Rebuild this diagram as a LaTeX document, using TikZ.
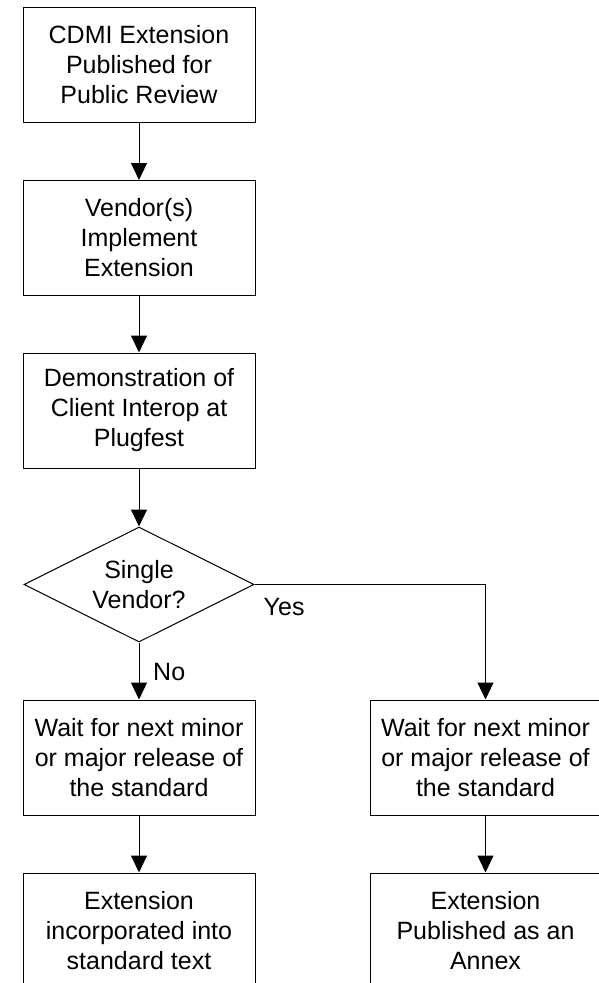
\documentclass[tikz,border=0pt]{standalone}
\usepackage{fontspec}
\setmainfont{Liberation Sans}
\usetikzlibrary{arrows.meta,positioning,shapes.geometric}
\tikzset{
  box/.style={draw,line width=1pt,minimum width=232pt,minimum height=115pt,inner sep=0pt,align=center},
  decision/.style={draw,line width=1pt,diamond,aspect=2,minimum width=230pt,minimum height=115pt,inner sep=0pt,align=center},
  arr/.style={line width=1pt,-{Triangle[width=16pt,length=17pt]}},
  lbl/.style={inner sep=0pt,anchor=north west}
}
\begin{document}
\begin{tikzpicture}[x=1pt,y=-1pt,font=\fontsize{25}{30}\selectfont]
	\useasboundingbox (0,0) rectangle (599,983);
	\clip (0,0) rectangle (599,983);
	% left column
	\node [box] at (139,64.5) (pub) {CDMI Extension\\Published for\\Public Review};
	\node [box] at (139,238) (impl) {Vendor(s)\\Implement\\Extension};
	\node [box] at (139,410.5) (demo) {Demonstration of\\Client Interop at\\Plugfest};
	\node [decision] at (139,584.5) (single) {Single\\Vendor?};
	\node [box] at (139,757.5) (waitL) {Wait for next minor\\or major release of\\the standard};
	\node [box] at (139,930.5) (incl) {Extension\\incorporated into\\standard text};
	% right column
	\node [box,minimum width=231pt] at (485.5,757.5) (waitR) {Wait for next minor\\or major release of\\the standard};
	\node [box,minimum width=231pt] at (485.5,930.5) (annex) {Extension\\Published as an\\Annex};
	% connectors
	\draw [arr] (pub) -- (impl);
	\draw [arr] (impl) -- (demo);
	\draw [arr] (demo) -- (single);
	\draw [arr] (single.south) -- (waitL.north);
	\draw [arr] (single.east) -| (waitR.north);
	\draw [arr] (waitL) -- (incl);
	\draw [arr] (waitR) -- (annex);
	\node [lbl,below right=21pt and 14pt of single.south] (no) {No};
	\node [lbl,below right=14pt and 9pt of single.east] (yes) {Yes};
\end{tikzpicture}
\end{document}
